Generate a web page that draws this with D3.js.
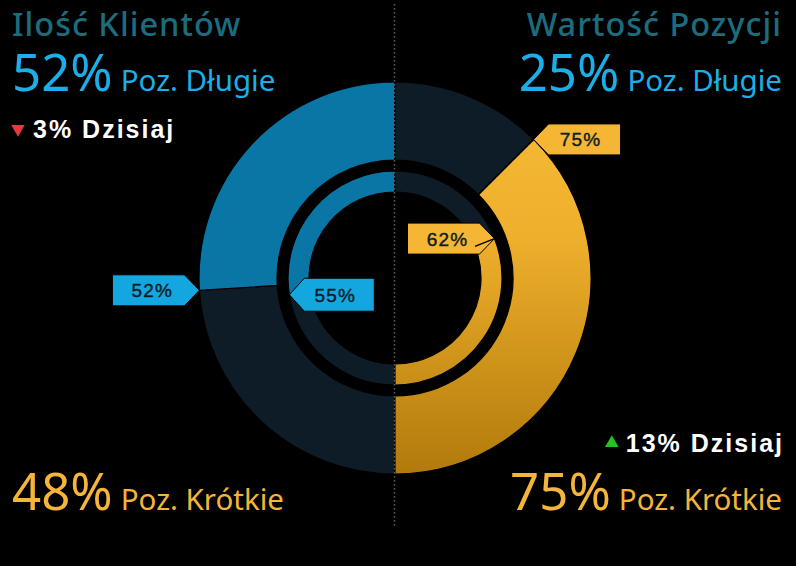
<!DOCTYPE html>
<html>
<head>
<meta charset="utf-8">
<title>Ilość Klientów / Wartość Pozycji</title>
<style>
  body { margin: 0; background: #000; }
  svg { display: block; }
  .title { font-family: "Noto Sans", "Open Sans", sans-serif; font-weight: 500; }
  .big { font-family: "Noto Sans", "Open Sans", sans-serif; }
  .today { font-family: "Liberation Sans", Arial, sans-serif; font-weight: bold; }
  .tag { font-family: "Liberation Sans", Arial, sans-serif; }
</style>
<script src="https://d3js.org/d3.v7.min.js"></script>
</head>
<body>
<script>
// chart values
var titles = ["Ilość Klientów", "Wartość Pozycji"];
var outerValues = [52, 75];   // outer ring, % of half circle
var innerValues = [55, 62];   // inner ring
var longPct = [52, 25];
var shortPct = [48, 75];
var todayChange = [-3, 13];
var longLabel = "Poz. Długie", shortLabel = "Poz. Krótkie", todayLabel = "Dzisiaj";

var W = 796, H = 566;
var cx = 395, cy = 278;
var rings = [
  {values: outerValues, r0: 118, r1: 196, outward: true},
  {values: innerValues, r0: 86, r1: 107, outward: false}
];

var blue = "#0a76a6", dark = "#0e1c27", tagBlue = "#14a6df", tagGold = "#f4b634";
var lightBlue = "#1aafe8", gold = "#f5b53a", titleCol = "#1d6c7e";

var svg = d3.select("body").append("svg")
    .attr("width", W).attr("height", H);

var defs = svg.append("defs");
var grad = defs.append("linearGradient").attr("id", "goldGrad")
    .attr("gradientUnits", "userSpaceOnUse")
    .attr("x1", 0).attr("y1", -196).attr("x2", 0).attr("y2", 196);
grad.append("stop").attr("offset", "0%").attr("stop-color", "#f7bd38");
grad.append("stop").attr("offset", "40%").attr("stop-color", "#eeaf2c");
grad.append("stop").attr("offset", "100%").attr("stop-color", "#b27a0b");

// percentage of a half circle -> angle
var ang = d3.scaleLinear().domain([0, 100]).range([0, Math.PI]);

var g = svg.append("g").attr("transform", "translate(" + cx + "," + cy + ")");
var arc = d3.arc();

rings.forEach(function(ring) {
  // left half: filled part grows counter-clockwise from 12 o'clock
  var vL = ring.values[0];
  var segsL = [
    {s: -Math.PI, e: -ang(vL), fill: dark},
    {s: -ang(vL), e: 0, fill: blue}
  ];
  // right half: filled part grows counter-clockwise from 6 o'clock
  var vR = ring.values[1];
  var segsR = [
    {s: 0, e: Math.PI - ang(vR), fill: dark},
    {s: Math.PI - ang(vR), e: Math.PI, fill: "url(#goldGrad)"}
  ];
  g.selectAll(null).data(segsL.concat(segsR)).enter().append("path")
    .attr("d", function(d) {
      return arc({innerRadius: ring.r0, outerRadius: ring.r1, startAngle: d.s, endAngle: d.e});
    })
    .attr("fill", function(d) { return d.fill; })
    .attr("stroke", "#000").attr("stroke-width", 1.2);
});

// divider
svg.append("line")
  .attr("x1", 394.5).attr("x2", 394.5).attr("y1", 4).attr("y2", 526)
  .attr("stroke", "#5a6068").attr("stroke-width", 1.5)
  .attr("stroke-dasharray", "1.5,2.5");

// tags
function tag(tip, dir, fill, txt, w, h) {
  // dir = +1 box to the right of the tip, -1 box to the left
  var d = 15;
  var pts = [
    [tip[0], tip[1]],
    [tip[0] + dir * d, tip[1] - h / 2],
    [tip[0] + dir * (d + w), tip[1] - h / 2],
    [tip[0] + dir * (d + w), tip[1] + h / 2],
    [tip[0] + dir * d, tip[1] + h / 2]
  ];
  svg.append("path").attr("d", d3.line()(pts) + "Z")
    .attr("fill", fill).attr("stroke", "#000").attr("stroke-width", 1);
  svg.append("text").attr("class", "tag")
    .attr("x", tip[0] + dir * (d + w / 2) - dir * 4)
    .attr("y", tip[1] + 7)
    .attr("text-anchor", "middle")
    .attr("font-size", 19)
    .attr("letter-spacing", 1.2)
    .attr("fill", "#0b1b26")
    .attr("stroke", "#0b1b26").attr("stroke-width", 0.4)
    .text(txt);
}

rings.forEach(function(ring) {
  // left boundary point
  var aL = -ang(ring.values[0]);
  var tipL = [cx + ring.r1 * Math.sin(aL), cy - ring.r1 * Math.cos(aL)];
  tag(tipL, ring.outward ? -1 : 1, tagBlue, ring.values[0] + "%", ring.outward ? 72 : 70, ring.outward ? 31 : 33);
  var aR = Math.PI - ang(ring.values[1]);
  var tipR = [cx + ring.r1 * Math.sin(aR), cy - ring.r1 * Math.cos(aR)];
  tag(tipR, ring.outward ? 1 : -1, tagGold, ring.values[1] + "%", 72, 31);
  // black leader through the boundary
  svg.append("line")
    .attr("x1", cx + ring.r0 * Math.sin(aR)).attr("y1", cy - ring.r0 * Math.cos(aR))
    .attr("x2", tipR[0]).attr("y2", tipR[1])
    .attr("stroke", "#000").attr("stroke-width", 1.5);
});

// texts
var xs = [12, 782], anchors = ["start", "end"];
[0, 1].forEach(function(i) {
  svg.append("text").attr("class", "title")
    .attr("x", xs[i]).attr("y", 35.5).attr("text-anchor", anchors[i])
    .attr("font-size", 32.5).attr("letter-spacing", 1).attr("fill", titleCol)
    .text(titles[i]);

  var t = svg.append("text").attr("class", "big")
    .attr("x", xs[i]).attr("y", 91).attr("text-anchor", anchors[i])
    .attr("fill", lightBlue);
  t.append("tspan").attr("font-size", 51).text(longPct[i] + "%");
  t.append("tspan").attr("font-size", 29.5).attr("dx", 8).text(longLabel);

  var s = svg.append("text").attr("class", "big")
    .attr("x", xs[i]).attr("y", 510).attr("text-anchor", anchors[i])
    .attr("fill", gold);
  s.append("tspan").attr("font-size", 51).text(shortPct[i] + "%");
  s.append("tspan").attr("font-size", 29.5).attr("dx", 8).text(shortLabel);
});

// daily change lines
var todayY = [138, 452];
[0, 1].forEach(function(i) {
  var up = todayChange[i] > 0;
  var tx = svg.append("text").attr("class", "today")
    .attr("y", todayY[i]).attr("font-size", 25).attr("fill", "#fff")
    .attr("letter-spacing", 2)
    .text(Math.abs(todayChange[i]) + "% " + todayLabel);
  var triX;
  if (i === 0) {
    tx.attr("x", 33).attr("text-anchor", "start");
    triX = 18;
  } else {
    tx.attr("x", 784).attr("text-anchor", "end");
    var bb = tx.node().getBBox();
    triX = bb.x - 14;
  }
  svg.append("path")
    .attr("d", d3.symbol().type(d3.symbolTriangle).size(80)())
    .attr("transform", "translate(" + triX + "," + (todayY[i] - 9) + ") rotate(" + (up ? 0 : 180) + ")")
    .attr("fill", up ? "#22c322" : "#e8383a");
});
</script>
</body>
</html>
